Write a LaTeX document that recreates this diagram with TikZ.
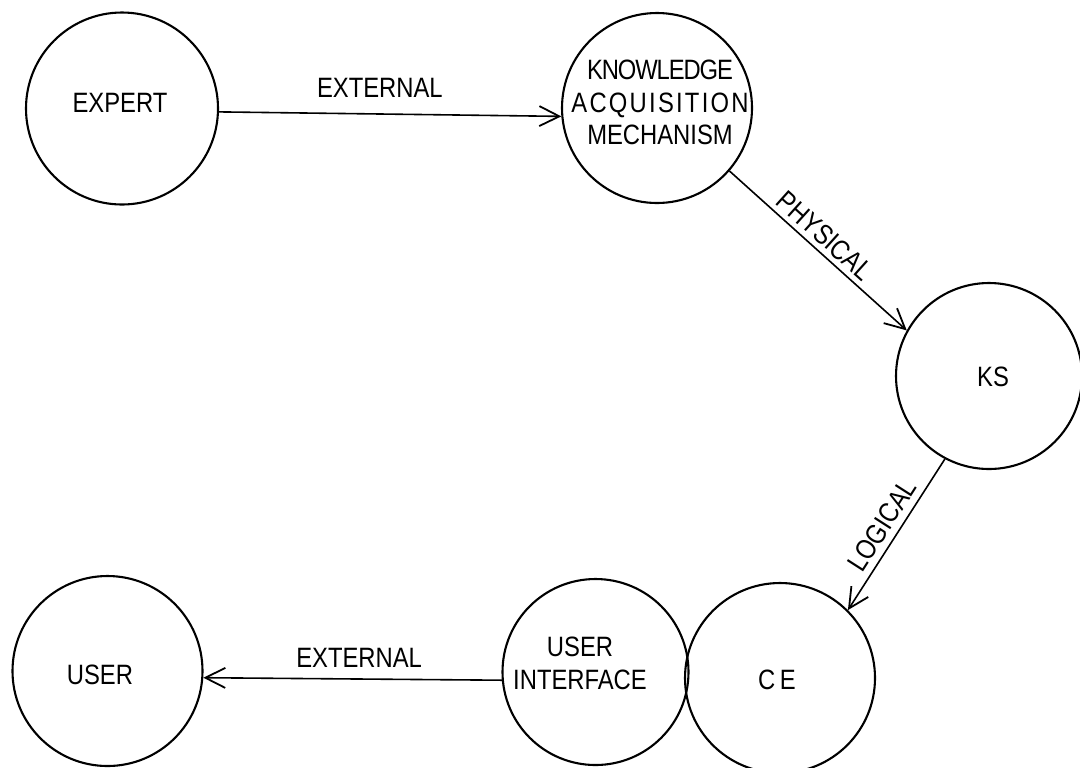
\documentclass[tikz,border=0pt]{standalone}
\usepackage{fontspec}
\setmainfont{Liberation Sans}[FakeStretch=0.85]
\usetikzlibrary{arrows.meta}
\begin{document}
\begin{tikzpicture}[x=0.5pt,y=-0.5pt,
  bubble/.style={circle,draw,line width=1.05pt,inner sep=0pt,minimum size=#1},
  txt/.style={inner sep=0pt,align=center,font=\fontsize{14}{16.25}\selectfont},
  link/.style={line width=0.8pt,-{Straight Barb[length=10pt,width=10pt,line width=0.9pt]}},
  lab/.style={inner sep=0pt,font=\fontsize{14}{16}\selectfont}]
\useasboundingbox (0,0) rectangle (1080,767);
% circles
\node[bubble=96pt] (expert) at (122,108.5) {};
\node[bubble=95pt] (kam) at (657,108) {};
\node[bubble=93pt] (ks) at (989,376) {};
\node[bubble=93pt] (ui) at (595.5,672) {};
\node[bubble=95pt] (ce) at (780,678) {};
\node[bubble=95pt] (user) at (107.5,671) {};
% texts
\node[txt] (expertT) at (120,103) {EXPERT};
\node[txt] (kamT) at (660,102.5) {{\addfontfeature{LetterSpace=-4}KNOWLEDGE}\\{\addfontfeature{LetterSpace=8}ACQUISITION}\\MECHANISM};
\node[txt] (ksT) at (993,377) {KS};
\node[txt] (ceT) at (777,680) {C\,E};
\node[txt] (userT) at (100,675) {USER};
\node[txt] (uiT) at (580,663.5) {USER\\INTERFACE};
% connectors
\draw[link] (expert.-2.7) -- node[lab,above,inner ysep=8pt,pos=0.47] (ext1) {EXTERNAL} (kam.185.4);
\draw[link] (kam.-41.7) -- node[lab,sloped,above,inner ysep=2.5pt,pos=0.48] (phys) {PHYSICAL} (ks.151.5);
\draw[link] (ks.242.7) -- node[lab,sloped,above,inner ysep=3.3pt,pos=0.5] (logi) {LOGICAL} (ce.45.4);
\draw[link] (ui.185.6) -- node[lab,above,inner ysep=5.5pt,pos=0.478] (ext2) {EXTERNAL} (user.-4.8);
\end{tikzpicture}
\end{document}
